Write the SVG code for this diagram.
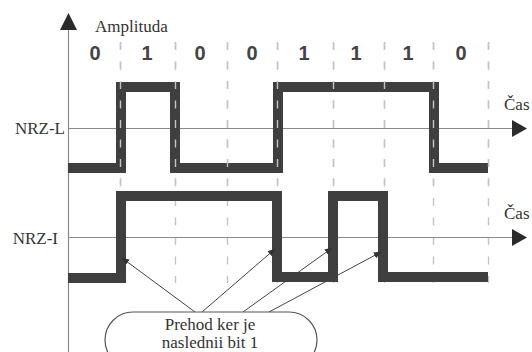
<svg xmlns="http://www.w3.org/2000/svg" width="532" height="352" viewBox="0 0 532 352">
<style>
.axis{stroke:#8a8a8a;stroke-width:1.2;fill:none}
.head{fill:#2a2a2a}
.grid{stroke:#c4c4c4;stroke-width:1.4;stroke-dasharray:8 11.5;fill:none}
.sig{stroke:#3f3f3f;stroke-width:10;fill:none;stroke-linejoin:miter;stroke-linecap:butt}
.lbl{font-family:"Liberation Serif","Times New Roman","DejaVu Serif",serif;font-size:17px;fill:#333}
.bit{font-family:"Liberation Sans",Arial,sans-serif;font-weight:bold;font-size:20px;fill:#444;text-anchor:middle}
.conn{stroke:#444;stroke-width:1;fill:none}
.note{fill:#fff;stroke:#555;stroke-width:1.2}
.ntext{font-family:"Liberation Serif","Times New Roman","DejaVu Serif",serif;font-size:17px;fill:#333;text-anchor:middle}
</style>
<defs>
<marker id="ah" viewBox="0 0 10 10" refX="9" refY="5" markerWidth="8" markerHeight="8" markerUnits="userSpaceOnUse" orient="auto">
<path d="M0,1 L10,5 L0,9 z" fill="#333"/>
</marker>
</defs>
<rect width="532" height="352" fill="#fff"/>
<g id="axes">
<line class="axis" x1="68.5" y1="28" x2="68.5" y2="352"/>
<polygon class="head" points="68.5,13 60,30 77,30"/>
<text class="lbl" x="95" y="32">Amplituda</text>
</g>
<g id="bits">
<text class="bit" x="95" y="60">0</text>
<text class="bit" x="147" y="60">1</text>
<text class="bit" x="200" y="60">0</text>
<text class="bit" x="252" y="60">0</text>
<text class="bit" x="304" y="60">1</text>
<text class="bit" x="356" y="60">1</text>
<text class="bit" x="408" y="60">1</text>
<text class="bit" x="461" y="60">0</text>
</g>
<g id="grid-lower">
<path class="grid" d="M120.5,42V283 M175.5,42V283 M227.5,42V283 M277.5,42V283 M333.5,42V283 M384.5,42V283 M433.5,42V283 M488.5,42V283"/>
</g>
<g id="nrz-l">
<line class="axis" x1="68" y1="128.5" x2="513" y2="128.5"/>
<polygon class="head" points="512,120 512,137 527,128.5"/>
<text class="lbl" x="65" y="134" text-anchor="end">NRZ-L</text>
<text class="lbl" x="504" y="110">Čas</text>
<path class="sig" d="M68,168 H121 V87 H175 V168 H278 V87 H434 V168 H488"/>
</g>
<g id="grid-upper">
<path class="grid" d="M120.5,42V185 M175.5,42V185 M227.5,42V185 M277.5,42V185 M333.5,42V185 M384.5,42V185 M433.5,42V185 M488.5,42V185"/>
</g>
<g id="nrz-i">
<line class="axis" x1="68" y1="237.5" x2="513" y2="237.5"/>
<polygon class="head" points="512,229 512,246 527,237.5"/>
<text class="lbl" x="58" y="244" text-anchor="end">NRZ-I</text>
<text class="lbl" x="504" y="219">Čas</text>
<path class="sig" d="M68,278 H121 V196 H277 V277 H333 V196 H383 V277 H488"/>
</g>
<g id="connectors">
<line class="conn" x1="195" y1="312" x2="122" y2="258" marker-end="url(#ah)"/>
<line class="conn" x1="202" y1="312" x2="275" y2="249" marker-end="url(#ah)"/>
<line class="conn" x1="243" y1="312" x2="332" y2="248" marker-end="url(#ah)"/>
<line class="conn" x1="269" y1="312" x2="381" y2="252" marker-end="url(#ah)"/>
</g>
<g id="callout">
<rect class="note" x="105" y="312" width="212" height="56" rx="28" ry="28"/>
<text class="ntext" x="210" y="330">Prehod ker je</text>
<text class="ntext" x="210" y="348">naslednii bit 1</text>
</g>
</svg>
